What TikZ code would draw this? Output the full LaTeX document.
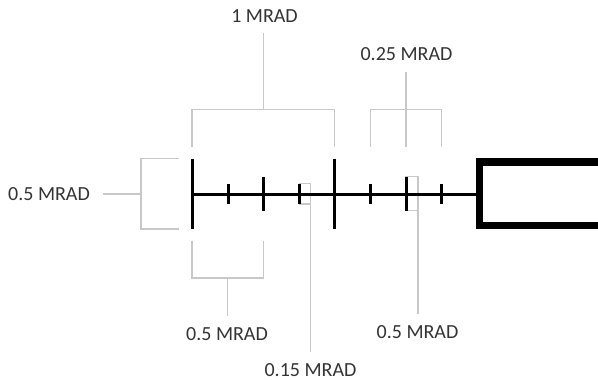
\documentclass[tikz,border=0pt]{standalone}
\usepackage{fontspec}
\setmainfont{Carlito}
\definecolor{leadgray}{HTML}{C8C8C8}
\definecolor{labelink}{HTML}{333333}
\tikzset{
  x=1pt,y=-1pt,
  lead/.style={draw=leadgray,line width=1.2pt,line cap=butt,line join=miter},
  reticle/.style={draw=black,line width=3pt},
  tickmark/.style={draw=black,line width=3pt},
  lab/.style={text=labelink,font=\fontsize{20}{22}\selectfont,inner sep=0pt,anchor=center},
}
\begin{document}
\begin{tikzpicture}
\useasboundingbox (0,0) rectangle (598,380);
% labels
\node[lab] (l1) at (264.5,15.7) {1 MRAD};
\node[lab] (l25) at (406.5,54) {0.25 MRAD};
\node[lab] (lleft) at (49,194) {0.5 MRAD};
\node[lab] (lbot) at (227,334) {0.5 MRAD};
\node[lab] (l15) at (310.5,370) {0.15 MRAD};
\node[lab] (lright) at (417.5,332) {0.5 MRAD};
% coordinates
\coordinate (a1) at (192,146.7);
\coordinate (a2) at (192,109.3);
\coordinate (a3) at (334.7,109.3);
\coordinate (a4) at (334.7,146.7);
\coordinate (a5) at (263.4,109.3);
\coordinate (a6) at (263.4,33);
\coordinate (b1) at (370.5,146.7);
\coordinate (b2) at (370.5,109.3);
\coordinate (b3) at (441.5,109.3);
\coordinate (b4) at (441.5,146.7);
\coordinate (b5) at (406,146.7);
\coordinate (b6) at (406,71.7);
\coordinate (c1) at (179,158.8);
\coordinate (c2) at (141,158.8);
\coordinate (c3) at (141,229);
\coordinate (c4) at (179,229);
\coordinate (c5) at (141,194);
\coordinate (c6) at (103,194);
\coordinate (d1) at (192,240.7);
\coordinate (d2) at (192,278);
\coordinate (d3) at (263.4,278);
\coordinate (d4) at (263.4,240.7);
\coordinate (d5) at (227.7,278);
\coordinate (d6) at (227.7,316);
\coordinate (e1) at (299.3,183.7);
\coordinate (e2) at (310.6,204);
\coordinate (e3) at (310.6,352);
\coordinate (f1) at (406,176.7);
\coordinate (f2) at (418,210.7);
\coordinate (f3) at (418,314);
% leaders
\draw[lead] (a1) -- (a2) -- (a3) -- (a4);
\draw[lead] (a5) -- (a6);
\draw[lead] (b1) -- (b2) -- (b3) -- (b4);
\draw[lead] (b5) -- (b6);
\draw[lead] (c1) -- (c2) -- (c3) -- (c4);
\draw[lead] (c5) -- (c6);
\draw[lead] (d1) -- (d2) -- (d3) -- (d4);
\draw[lead] (d5) -- (d6);
\draw[lead] (e1) rectangle (e2);
\draw[lead] (e2) -- (e3);
\draw[lead] (f1) rectangle (f2);
\draw[lead] (f2) -- (f3);
% reticle
\draw[reticle] (192,194) -- (479,194);
\draw[reticle] (192,158.7) -- (192,228.7);
\draw[reticle] (334.7,158.7) -- (334.7,228.7);
\draw[tickmark] (228,184) -- (228,204);
\draw[tickmark] (263.4,176.7) -- (263.4,210.7);
\draw[tickmark] (299,184) -- (299,204);
\draw[tickmark] (370.4,184) -- (370.4,204);
\draw[tickmark] (406,176.7) -- (406,210.7);
\draw[tickmark] (441.4,184) -- (441.4,204);
\draw[draw=black,line width=7.6pt,line join=miter] (602,162) -- (479.5,162) -- (479.5,225.6) -- (602,225.6);
\end{tikzpicture}
\end{document}
